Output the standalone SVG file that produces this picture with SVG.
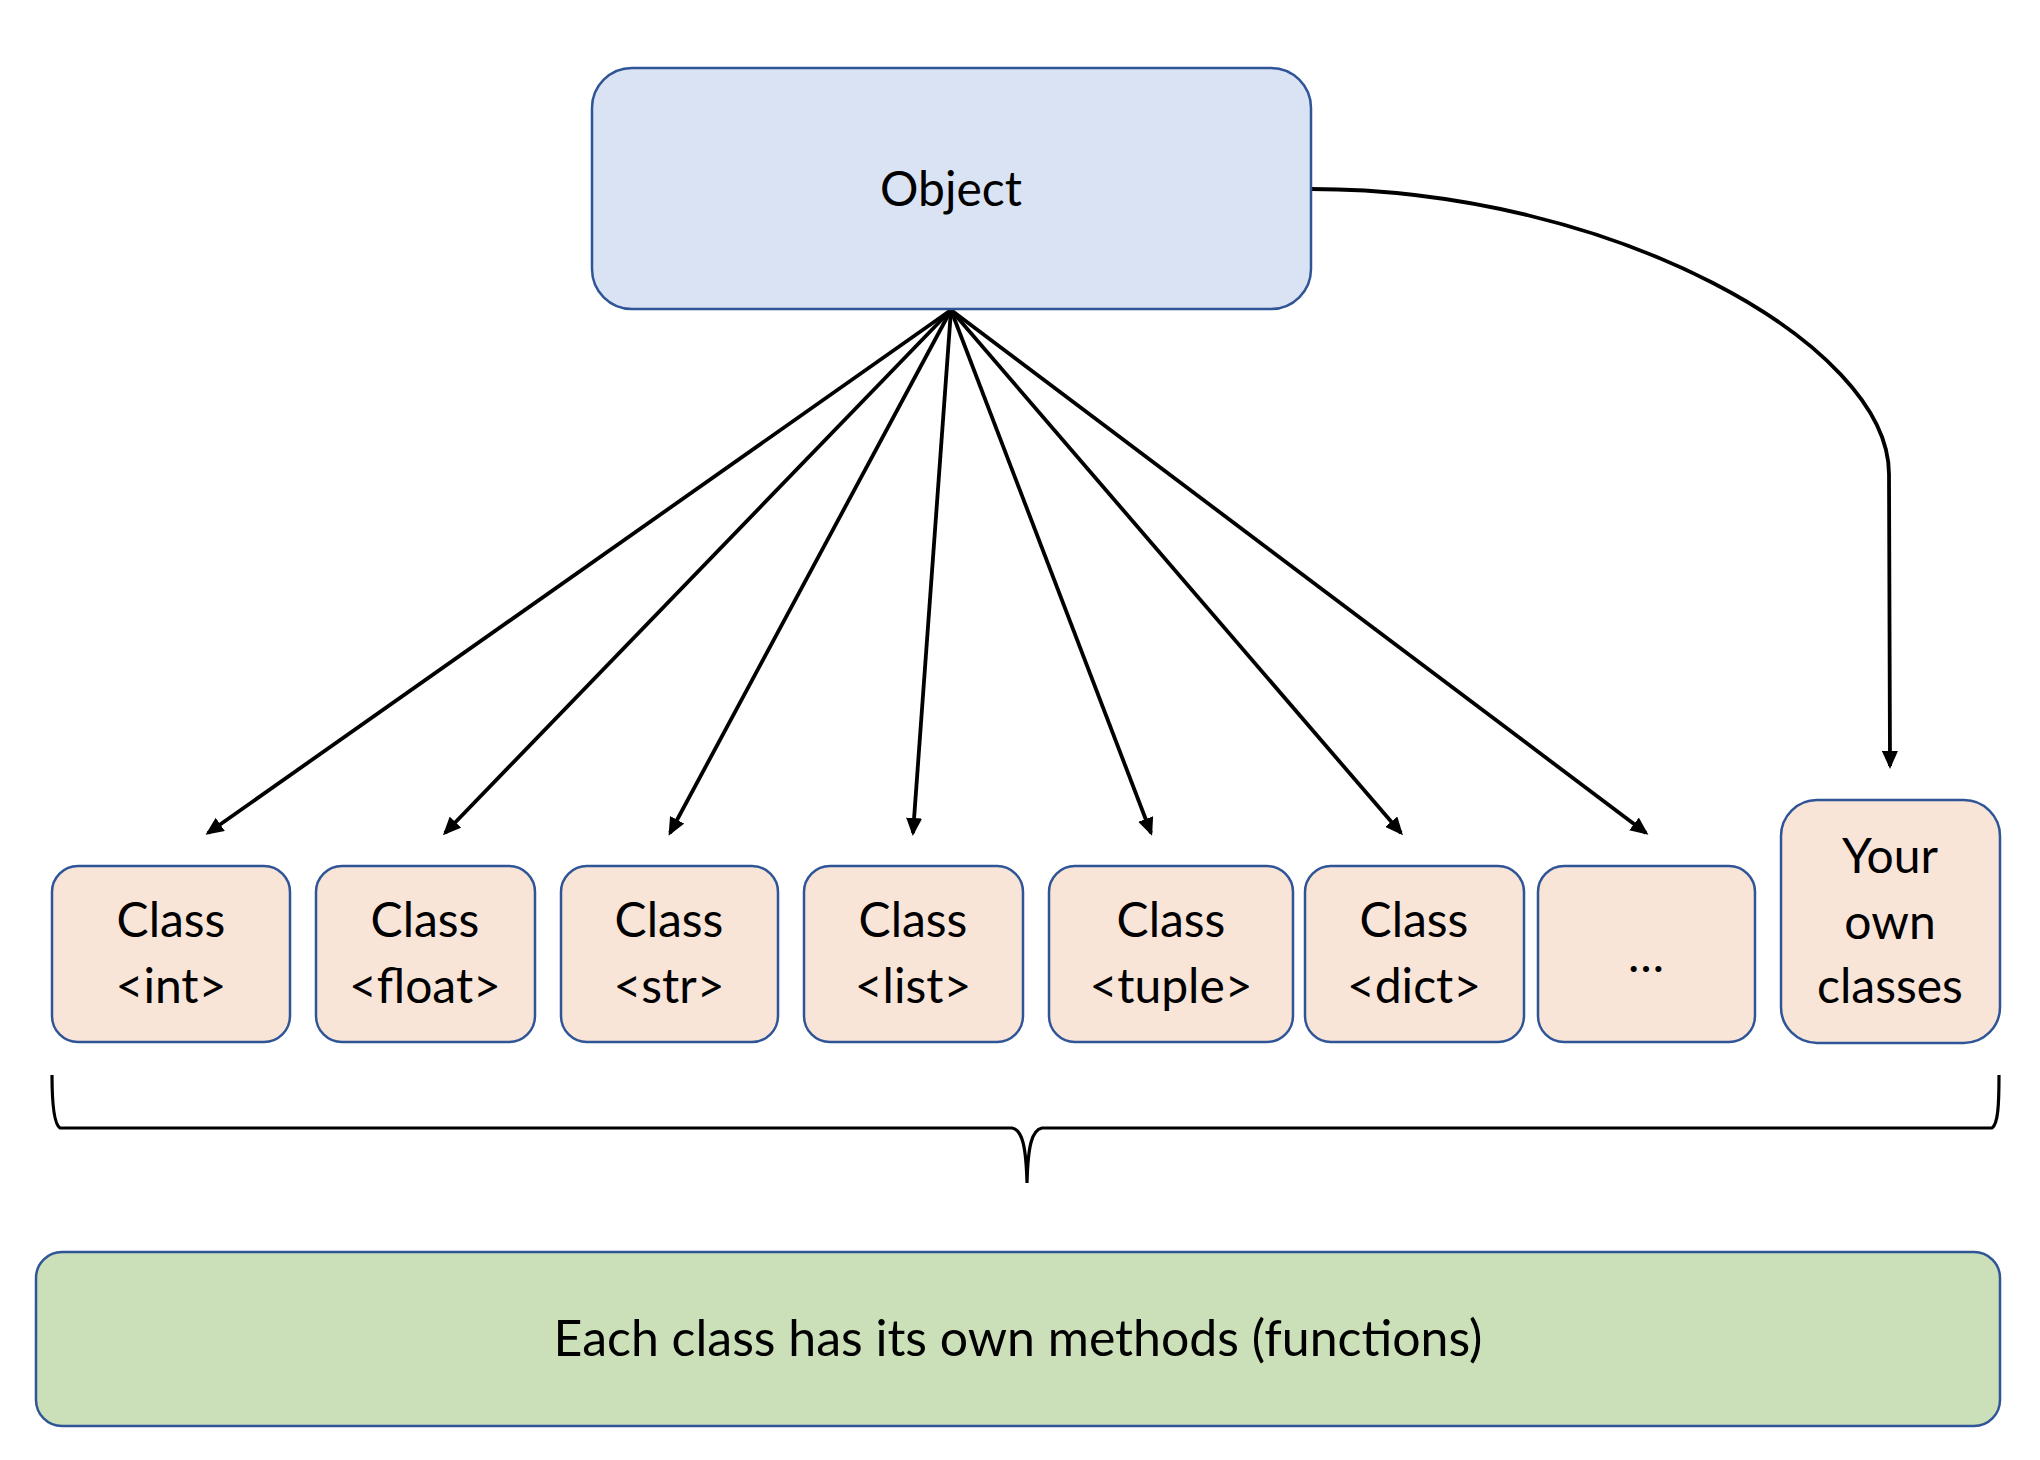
<svg xmlns="http://www.w3.org/2000/svg" width="2040" height="1460" viewBox="0 0 2040 1460">
<style>
.box{stroke:#2F5597;stroke-width:2.5}
.obj{fill:#DAE3F3}
.cls{fill:#F8E5D8}
.meth{fill:#CBDFB8}
.t{font-family:Lato,"Open Sans",sans-serif;font-size:48px;fill:#000;text-anchor:middle}
.c{stroke:#000;stroke-width:3.8;fill:none}
.br{stroke:#000;stroke-width:3.2;fill:none}
</style>
<defs>
<marker id="ah" markerUnits="userSpaceOnUse" markerWidth="18" markerHeight="16" refX="15" refY="8" orient="auto">
<path d="M0,0 L18,8 L0,16 z" fill="#000"/>
</marker>
</defs>
<rect width="2040" height="1460" fill="#fff"/>
<g id="connectors">
<line class="c" x1="951" y1="310" x2="208" y2="833" marker-end="url(#ah)"/>
<line class="c" x1="951" y1="310" x2="445" y2="833" marker-end="url(#ah)"/>
<line class="c" x1="951" y1="310" x2="670" y2="833" marker-end="url(#ah)"/>
<line class="c" x1="951" y1="310" x2="913" y2="833" marker-end="url(#ah)"/>
<line class="c" x1="951" y1="310" x2="1151" y2="833" marker-end="url(#ah)"/>
<line class="c" x1="951" y1="310" x2="1401" y2="833" marker-end="url(#ah)"/>
<line class="c" x1="951" y1="310" x2="1646" y2="833" marker-end="url(#ah)"/>
<path class="c" d="M1311,189 C1611,189 1889,344 1889,474 L1890,766" marker-end="url(#ah)"/>
<path id="brace" class="br" d="M52,1075 C52,1105 54,1124 60,1128 L1012,1128 C1022,1130 1026,1145 1027,1183 C1028,1145 1032,1130 1042,1128 L1992,1128 C1998,1124 1999,1105 1999,1075"/>
</g>
<g id="object">
<rect class="box obj" x="592" y="68" width="719" height="241" rx="40"/>
<text class="t" x="951" y="206">Object</text>
</g>
<g id="class-int">
<rect class="box cls" x="52" y="866" width="238" height="176" rx="26"/>
<text class="t" x="171" y="937">Class</text>
<text class="t" x="171" y="1003">&lt;int&gt;</text>
</g>
<g id="class-float">
<rect class="box cls" x="316" y="866" width="219" height="176" rx="26"/>
<text class="t" x="425" y="937">Class</text>
<text class="t" x="425" y="1003">&lt;float&gt;</text>
</g>
<g id="class-str">
<rect class="box cls" x="561" y="866" width="217" height="176" rx="26"/>
<text class="t" x="669" y="937">Class</text>
<text class="t" x="669" y="1003">&lt;str&gt;</text>
</g>
<g id="class-list">
<rect class="box cls" x="804" y="866" width="219" height="176" rx="26"/>
<text class="t" x="913" y="937">Class</text>
<text class="t" x="913" y="1003">&lt;list&gt;</text>
</g>
<g id="class-tuple">
<rect class="box cls" x="1049" y="866" width="244" height="176" rx="26"/>
<text class="t" x="1171" y="937">Class</text>
<text class="t" x="1171" y="1003">&lt;tuple&gt;</text>
</g>
<g id="class-dict">
<rect class="box cls" x="1305" y="866" width="219" height="176" rx="26"/>
<text class="t" x="1414" y="937">Class</text>
<text class="t" x="1414" y="1003">&lt;dict&gt;</text>
</g>
<g id="class-more">
<rect class="box cls" x="1538" y="866" width="217" height="176" rx="26"/>
<text class="t" x="1646" y="972">…</text>
</g>
<g id="own-classes">
<rect class="box cls" x="1781" y="800" width="219" height="243" rx="36"/>
<text class="t" x="1890" y="873">Your</text>
<text class="t" x="1890" y="939">own</text>
<text class="t" x="1890" y="1003">classes</text>
</g>
<g id="methods">
<rect class="box meth" x="36" y="1252" width="1964" height="174" rx="26"/>
<text class="t" x="1018" y="1356" style="font-size:50px">Each class has its own methods (functions)</text>
</g>
</svg>
